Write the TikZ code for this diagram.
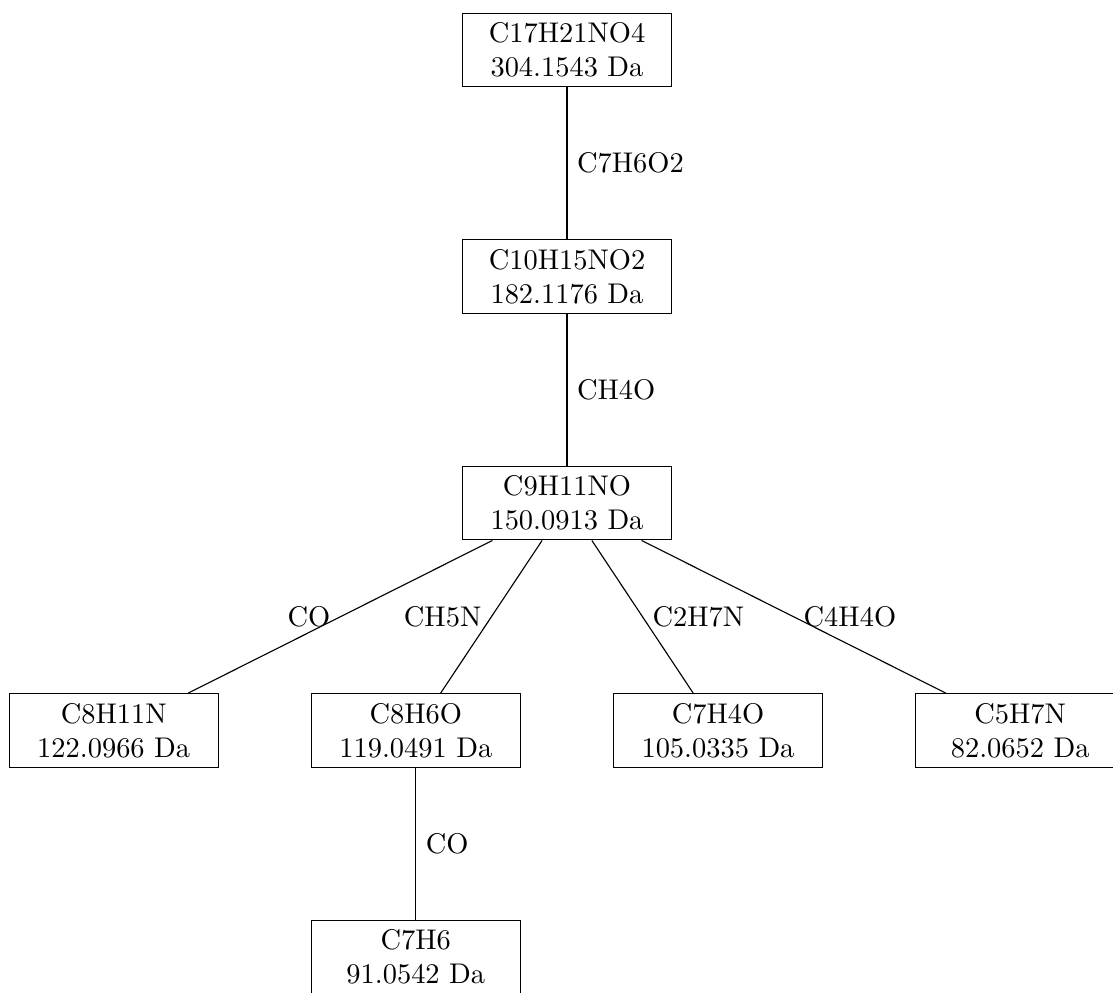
\documentclass[tikz,border=0pt]{standalone}
\begin{document}
\begin{tikzpicture}[x=0.3515pt, y=-0.3515pt,
  frag/.style={draw, align=center, minimum width=73.5pt, inner sep=3.33pt},
  loss/.style={midway}]
\useasboundingbox (0,0) rectangle (1113,992);

% fragmentation tree nodes
\node[frag] (p)  at (567,50)     {C17H21NO4\\304.1543 Da};
\node[frag] (a)  at (567,276.5)  {C10H15NO2\\182.1176 Da};
\node[frag] (b)  at (567,503)    {C9H11NO\\150.0913 Da};
\node[frag] (c1) at (113.7,730.5)  {C8H11N\\122.0966 Da};
\node[frag] (c2) at (415.8,730.5)  {C8H6O\\119.0491 Da};
\node[frag] (c3) at (718,730.5)    {C7H4O\\105.0335 Da};
\node[frag] (c4) at (1020.2,730.5) {C5H7N\\82.0652 Da};
\node[frag] (d)  at (415.8,957)    {C7H6\\91.0542 Da};

% neutral losses
\draw (p) -- node[loss, right] (l1) {C7H6O2} (a);
\draw (a) -- node[loss, right] (l2) {CH4O} (b);
\draw (b) -- node[loss, left]  (l3) {CO} (c1);
\draw (b) -- node[loss, left]  (l4) {CH5N} (c2);
\draw (b) -- node[loss, right] (l5) {C2H7N} (c3);
\draw (b) -- node[loss, right] (l6) {C4H4O} (c4);
\draw (c2) -- node[loss, right] (l7) {CO} (d);
\end{tikzpicture}
\end{document}
